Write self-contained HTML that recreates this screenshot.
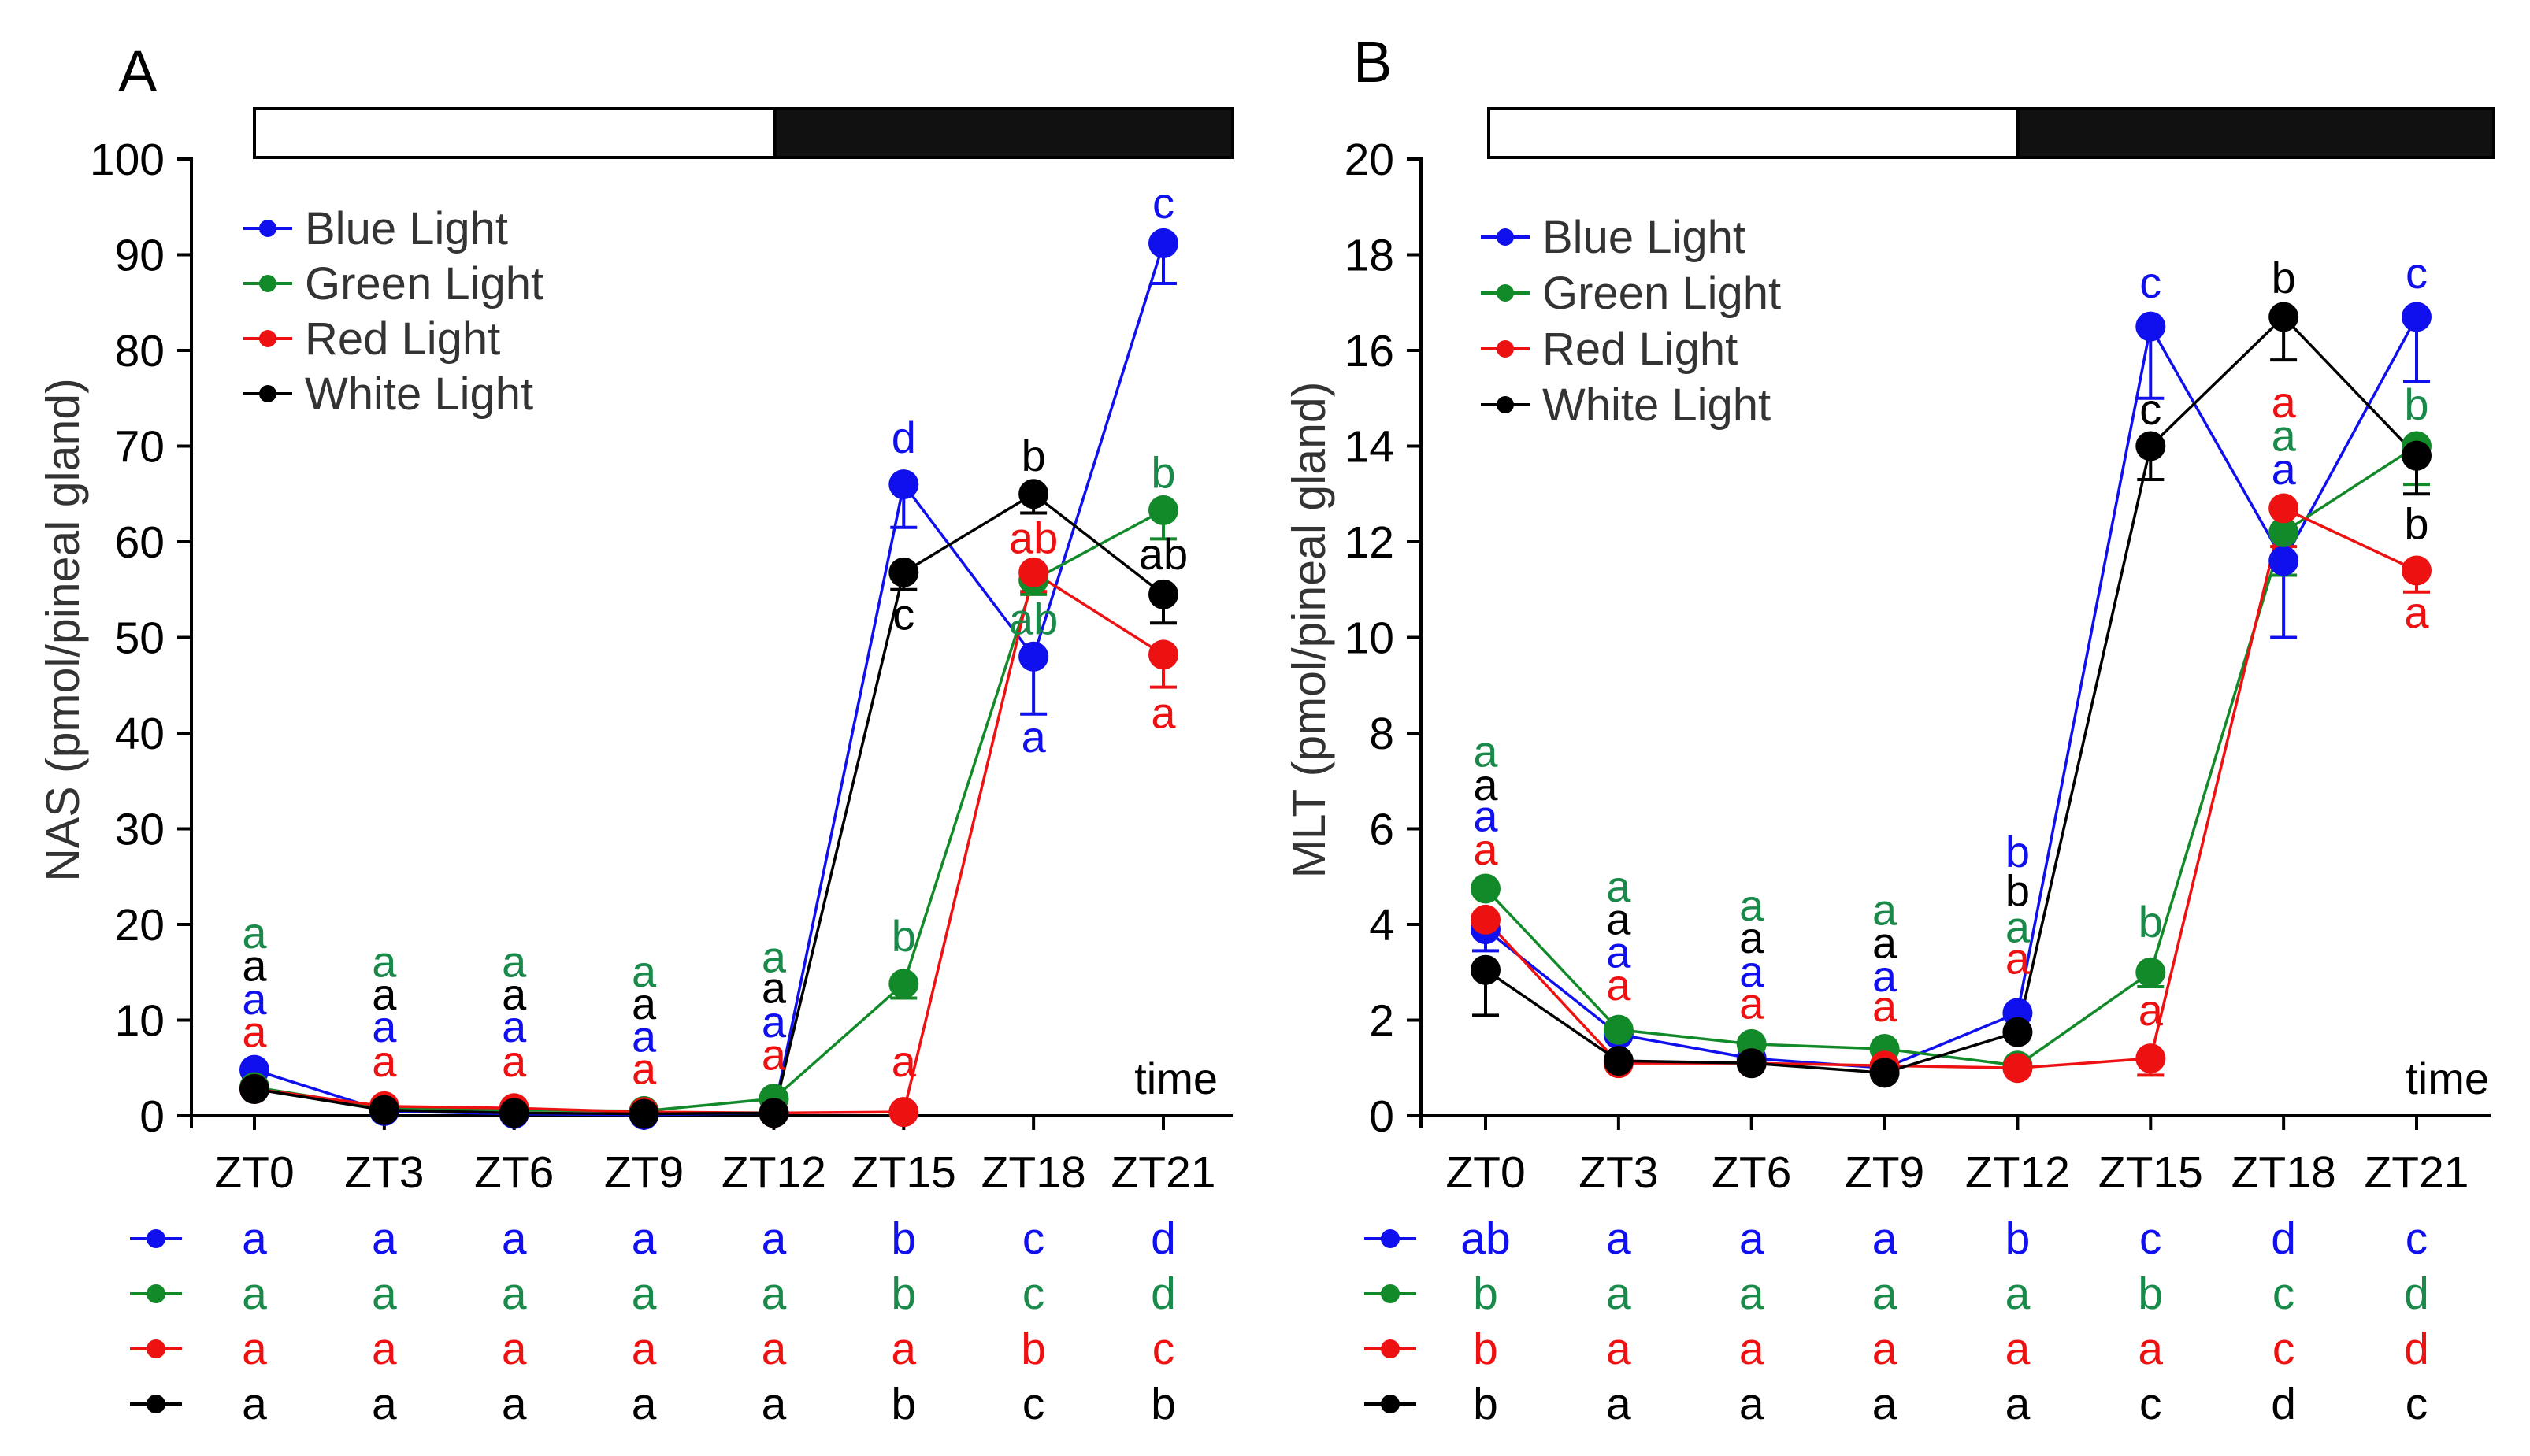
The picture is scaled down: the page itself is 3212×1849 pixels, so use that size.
<!DOCTYPE html>
<html><head><meta charset="utf-8"><style>
html,body{margin:0;padding:0;background:#fff;}
svg{display:block;font-family:"Liberation Sans",Arial,sans-serif;}
</style></head><body>
<svg id="fig" width="3212" height="1849" viewBox="0 0 3212 1849" xmlns="http://www.w3.org/2000/svg"></svg>
<script>
const categories = ["ZT0","ZT3","ZT6","ZT9","ZT12","ZT15","ZT18","ZT21"];
const seriesNames = ["Blue Light","Green Light","Red Light","White Light"];
const seriesColors = ["#1010ee","#138a2a","#ee1111","#000000"];
const letterColors = ["#1010ee","#1a8a4a","#ee1111","#000000"];
// Panel A (NAS)
const nasBlue  = [4.8,0.5,0.2,0.1,0.3,66,48,91.2];
const nasGreen = [3,0.8,0.6,0.5,1.8,13.8,56,63.3];
const nasRed   = [2.8,1,0.8,0.4,0.3,0.4,56.8,48.2];
const nasWhite = [2.8,0.6,0.3,0.2,0.3,56.8,65,54.5];
const nasBlueErr  = [0.5,0,0,0,0,4.5,6,4.2];
const nasGreenErr = [0,0,0,0,0,1.5,1.5,3];
const nasRedErr   = [0,0,0,0,0,0,2,3.4];
const nasWhiteErr = [0.5,0,0,0,0,1.8,2,3];
const nasTicks = [0,10,20,30,40,50,60,70,80,90,100];
// [category index, value, text, series index]
const nasLetters = [
 [0,19,"a",1],[0,15.6,"a",3],[0,12.1,"a",0],[0,8.7,"a",2],
 [1,16,"a",1],[1,12.6,"a",3],[1,9.2,"a",0],[1,5.6,"a",2],
 [2,16,"a",1],[2,12.6,"a",3],[2,9.2,"a",0],[2,5.6,"a",2],
 [3,15,"a",1],[3,11.6,"a",3],[3,8.2,"a",0],[3,4.8,"a",2],
 [4,16.5,"a",1],[4,13.3,"a",3],[4,9.7,"a",0],[4,6.3,"a",2],
 [5,70.8,"d",0],[5,18.7,"b",1],[5,5.6,"a",2],[5,52.3,"c",3],
 [6,68.9,"b",3],[6,60.3,"ab",2],[6,51.8,"ab",1],[6,39.5,"a",0],
 [7,95.3,"c",0],[7,67.1,"b",1],[7,58.6,"ab",3],[7,42,"a",2]
];
const nasRows = [
 ["a","a","a","a","a","b","c","d"],
 ["a","a","a","a","a","b","c","d"],
 ["a","a","a","a","a","a","b","c"],
 ["a","a","a","a","a","b","c","b"]
];
// Panel B (MLT)
const mltBlue  = [3.9,1.7,1.2,1.0,2.15,16.5,11.6,16.7];
const mltGreen = [4.75,1.8,1.5,1.4,1.05,3.0,12.2,14.0];
const mltRed   = [4.1,1.1,1.1,1.05,1.0,1.2,12.7,11.4];
const mltWhite = [3.05,1.15,1.1,0.9,1.75,14.0,16.7,13.8];
const mltBlueErr  = [0.45,0,0,0,0,1.5,1.6,1.35];
const mltGreenErr = [0,0,0,0,0,0.3,0.9,0.8];
const mltRedErr   = [0,0,0,0,0,0.35,0.8,0.45];
const mltWhiteErr = [0.95,0,0,0,0,0.7,0.9,0.8];
const mltTicks = [0,2,4,6,8,10,12,14,16,18,20];
const mltLetters = [
 [0,7.6,"a",1],[0,6.9,"a",3],[0,6.25,"a",0],[0,5.55,"a",2],
 [1,4.77,"a",1],[1,4.09,"a",3],[1,3.4,"a",0],[1,2.72,"a",2],
 [2,4.38,"a",1],[2,3.7,"a",3],[2,3.0,"a",0],[2,2.33,"a",2],
 [3,4.29,"a",1],[3,3.6,"a",3],[3,2.9,"a",0],[3,2.27,"a",2],
 [4,5.5,"b",0],[4,4.68,"b",3],[4,3.93,"a",1],[4,3.27,"a",2],
 [5,17.4,"c",0],[5,14.75,"c",3],[5,4.03,"b",1],[5,2.19,"a",2],
 [6,17.5,"b",3],[6,14.9,"a",2],[6,14.2,"a",1],[6,13.5,"a",0],
 [7,17.6,"c",0],[7,14.85,"b",1],[7,12.35,"b",3],[7,10.5,"a",2]
];
const mltRows = [
 ["ab","a","a","a","b","c","d","c"],
 ["b","a","a","a","a","b","c","d"],
 ["b","a","a","a","a","a","c","d"],
 ["b","a","a","a","a","c","d","c"]
];

const NS="http://www.w3.org/2000/svg";
const svg=document.getElementById('fig');
function mk(tag,attrs,parent,text){const e=document.createElementNS(NS,tag);for(const k in attrs)e.setAttribute(k,attrs[k]);if(text!==undefined)e.textContent=text;(parent||svg).appendChild(e);return e;}

function panel(p){
 const g=mk('g',{});
 
 
 const xs=i=>p.x0+i*(p.x7-p.x0)/7;
 const ys=v=>p.yBot-(v-p.yMin)/(p.yMax-p.yMin)*(p.yBot-p.yTop);
 const lab=mk('text',{x:p.labX,y:p.labY,'font-size':74},g,p.label);
 
 
 const bw=mk('rect',{x:p.barL,y:138,width:p.barMid-p.barL,height:62,fill:'#fff',stroke:'#000','stroke-width':4},g);
 
 
 const bd=mk('rect',{x:p.barMid,y:138,width:p.barR-p.barMid,height:62,fill:'#111',stroke:'#000','stroke-width':4},g);
 
 
 const ya=mk('line',{x1:p.ax,y1:p.yTop-2,x2:p.ax,y2:p.yBot+16,stroke:'#000','stroke-width':4},g);
 
 
 const xa=mk('line',{x1:p.ax,y1:p.yBot,x2:p.axEnd,y2:p.yBot,stroke:'#000','stroke-width':4},g);
 
 
 p.ticks.forEach(t=>{
  mk('line',{x1:p.ax-18,y1:ys(t),x2:p.ax,y2:ys(t),stroke:'#000','stroke-width':4},g);
  const tl=mk('text',{x:p.ax-34,y:ys(t)+20,'font-size':57,'text-anchor':'end'},g,t);
  
  
 });
 categories.forEach((c,i)=>{
  mk('line',{x1:xs(i),y1:p.yBot,x2:xs(i),y2:p.yBot+18,stroke:'#000','stroke-width':4},g);
  const tl=mk('text',{x:xs(i),y:1508,'font-size':57,'text-anchor':'middle'},g,c);
  
  
 });
 const yt=mk('text',{x:0,y:0,'font-size':59,'text-anchor':'middle',fill:'#333',transform:`translate(${p.ytX},800) rotate(-90)`},g,p.yTitle);
 
 
 const tm=mk('text',{x:p.timeR,y:1389,'font-size':56,'text-anchor':'end'},g,'time');
 
 
 p.series.forEach((s,si)=>{
  const pts=s.map((v,i)=>xs(i)+','+ys(v)).join(' ');
  const pl=mk('polyline',{points:pts,fill:'none',stroke:seriesColors[si],'stroke-width':3.5},g);
  
  
 });
 p.series.forEach((s,si)=>{
  s.forEach((v,i)=>{
   const e=p.errs[si][i];
   if(e>0){
    mk('line',{x1:xs(i),y1:ys(v),x2:xs(i),y2:ys(v-e),stroke:seriesColors[si],'stroke-width':4},g);
    mk('line',{x1:xs(i)-17,y1:ys(v-e),x2:xs(i)+17,y2:ys(v-e),stroke:seriesColors[si],'stroke-width':4},g);
   }
  });
 });
 p.series.forEach((s,si)=>{
  s.forEach((v,i)=>{
   const c=mk('circle',{cx:xs(i),cy:ys(v),r:19,fill:seriesColors[si]},g);
   
   
  });
 });
 p.letters.forEach(L=>{
  const t=mk('text',{x:xs(L[0]),y:ys(L[1])+18,'font-size':56,'text-anchor':'middle',fill:letterColors[L[3]]},g,L[2]);
  
  
 });
 seriesNames.forEach((n,si)=>{
  const y=p.legY+si*p.legDy;
  mk('line',{x1:p.legX,y1:y,x2:p.legX+62,y2:y,stroke:seriesColors[si],'stroke-width':4},g);
  mk('circle',{cx:p.legX+31,cy:y,r:11,fill:seriesColors[si]},g);
  const t=mk('text',{x:p.legX+78,y:y+20,'font-size':58,fill:'#333'},g,n);
  
  
 });
 const rowY=[1573,1643,1713,1783];
 p.rows.forEach((row,ri)=>{
  mk('line',{x1:p.rowX,y1:rowY[ri],x2:p.rowX+66,y2:rowY[ri],stroke:seriesColors[ri],'stroke-width':4},g);
  mk('circle',{cx:p.rowX+33,cy:rowY[ri],r:12,fill:seriesColors[ri]},g);
  row.forEach((l,i)=>{
   const t=mk('text',{x:xs(i),y:rowY[ri]+19,'font-size':57,'text-anchor':'middle',fill:letterColors[ri]},g,l);
   
   
  });
 });
}
panel({id:'panel-a-nas',label:'A',labX:150,labY:116,barL:323,barMid:984,barR:1565,ax:243,axEnd:1565,timeR:1546,x0:323,x7:1477,yTop:202,yBot:1417,yMin:0,yMax:100,ticks:nasTicks,ytX:100,yTitle:'NAS (pmol/pineal gland)',
 series:[nasBlue,nasGreen,nasRed,nasWhite],errs:[nasBlueErr,nasGreenErr,nasRedErr,nasWhiteErr],letters:nasLetters,rows:nasRows,legX:309,legY:290,legDy:70,rowX:165});
panel({id:'panel-b-mlt',label:'B',labX:1718,labY:104,barL:1890,barMid:2562,barR:3166,ax:1804,axEnd:3162,timeR:3160,x0:1886,x7:3068,yTop:202,yBot:1417,yMin:0,yMax:20,ticks:mltTicks,ytX:1682,yTitle:'MLT (pmol/pineal gland)',
 series:[mltBlue,mltGreen,mltRed,mltWhite],errs:[mltBlueErr,mltGreenErr,mltRedErr,mltWhiteErr],letters:mltLetters,rows:mltRows,legX:1880,legY:301,legDy:71,rowX:1732});
</script>
</body></html>
